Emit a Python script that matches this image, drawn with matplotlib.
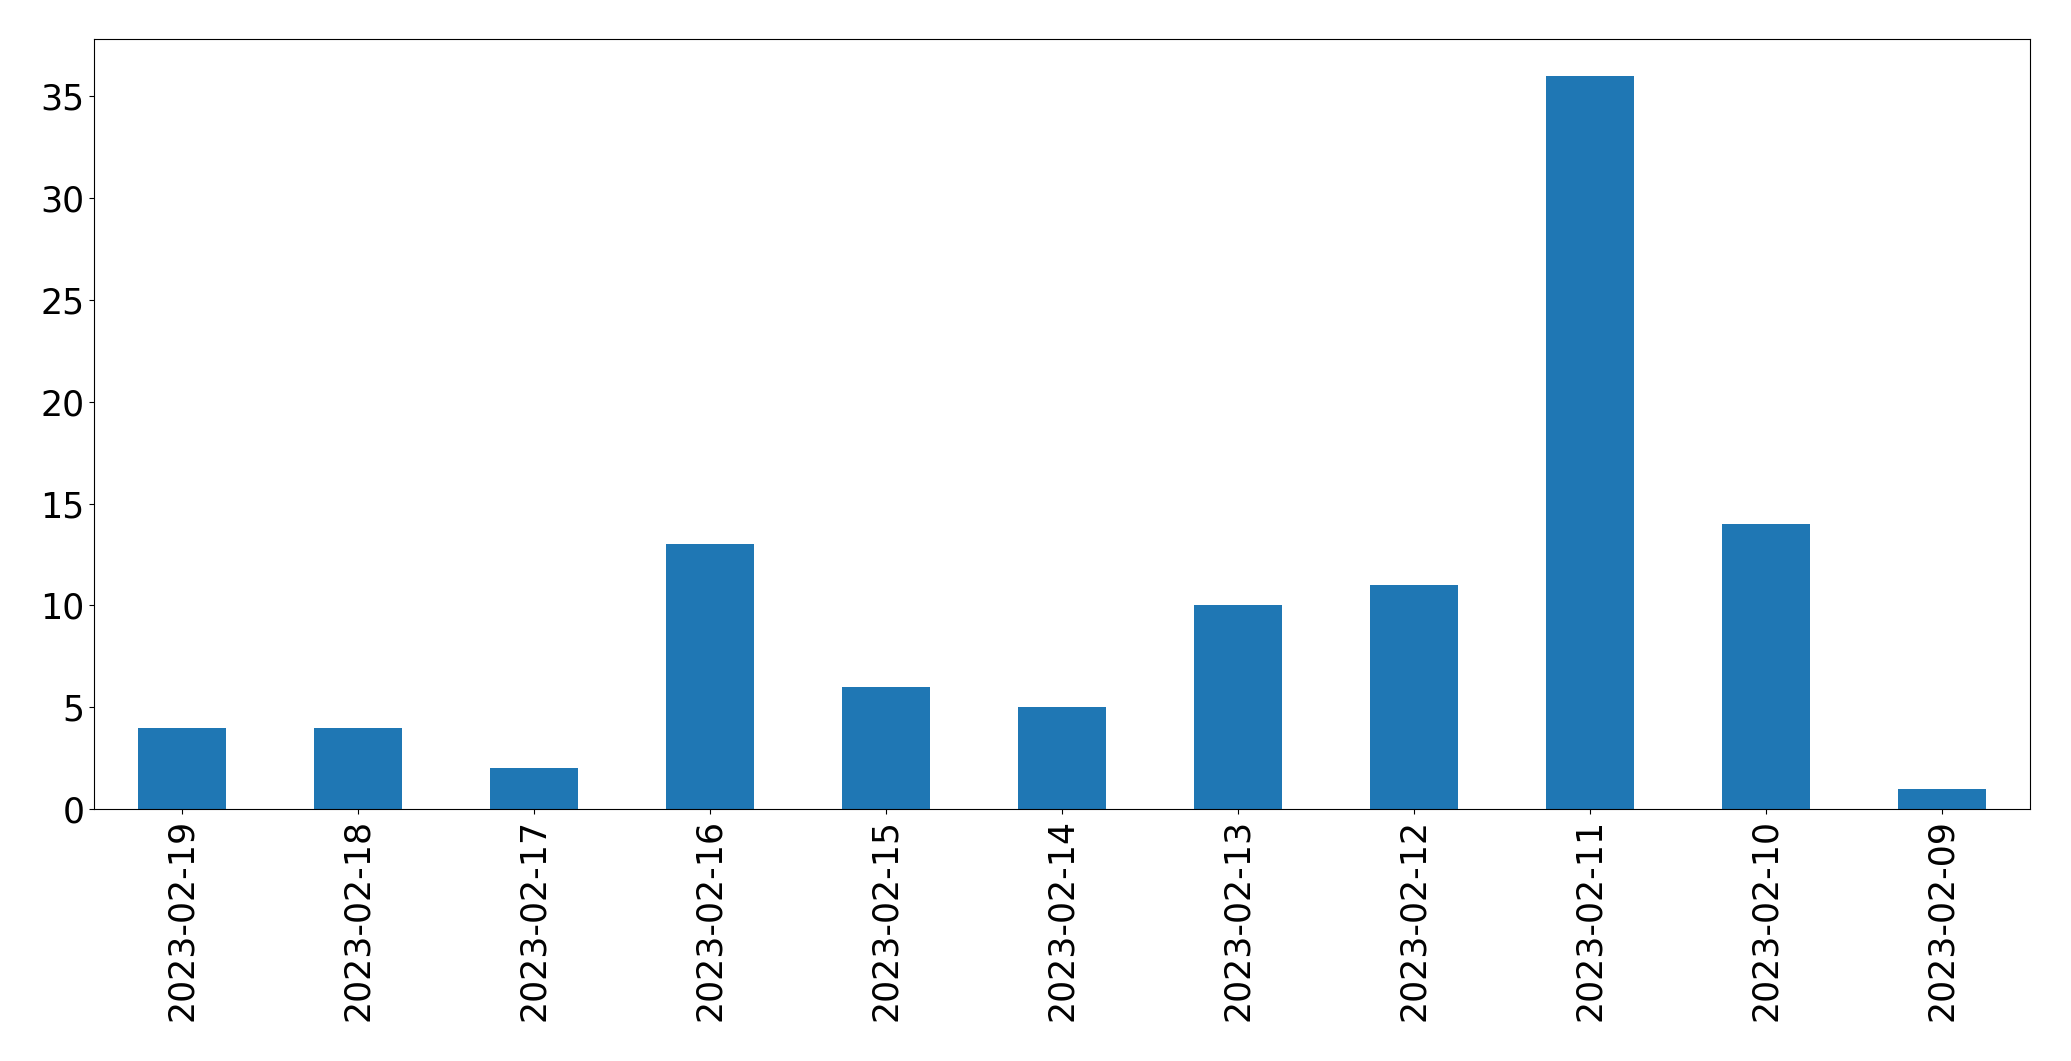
import matplotlib
matplotlib.use('Agg')
import matplotlib.pyplot as plt
import pandas as pd

dates = ['2023-02-19', '2023-02-18', '2023-02-17', '2023-02-16', '2023-02-15',
         '2023-02-14', '2023-02-13', '2023-02-12', '2023-02-11', '2023-02-10',
         '2023-02-09']
counts = [4, 4, 2, 13, 6, 5, 10, 11, 36, 14, 1]

s = pd.Series(counts, index=dates)

fig, ax = plt.subplots(figsize=(20.71, 10.61), dpi=100)
s.plot(kind='bar', ax=ax, color='#1f77b4')
ax.tick_params(labelsize=25)
fig.subplots_adjust(left=0.0454, right=0.980, top=0.963, bottom=0.2375)
plt.savefig('out.png')
